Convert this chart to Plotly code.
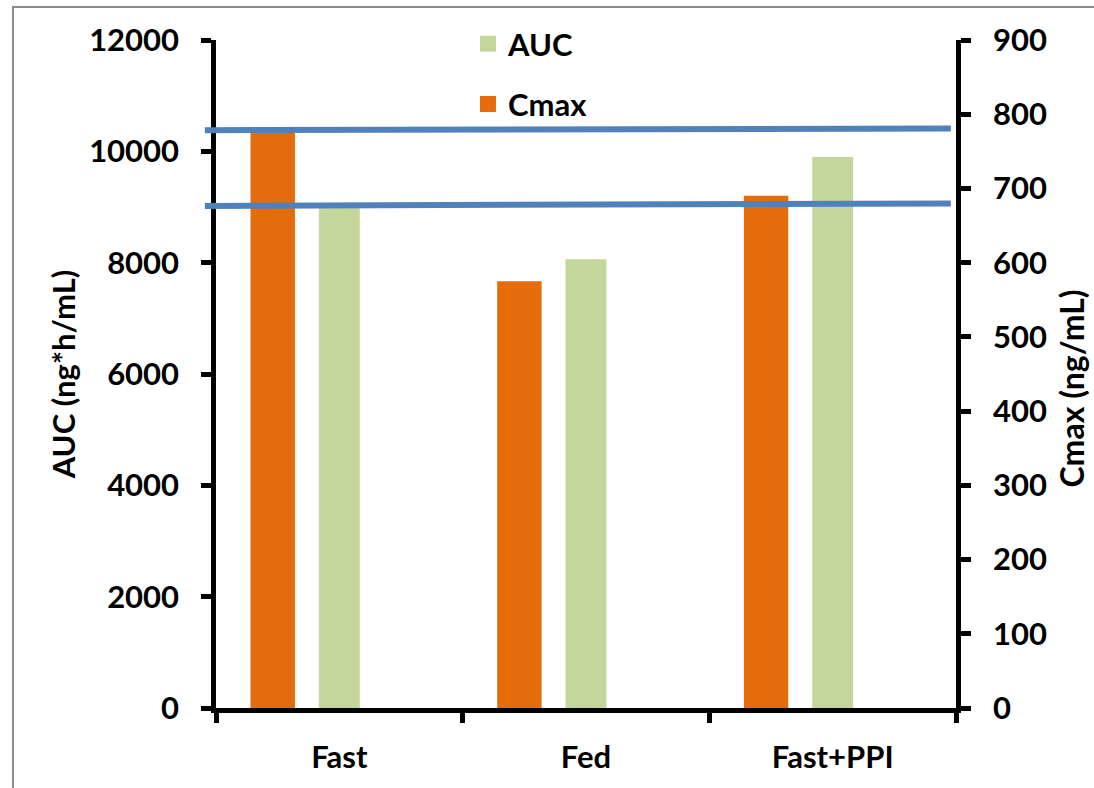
import plotly.graph_objects as go

# Study conditions on the category axis
conditions = ["Fast", "Fed", "Fast+PPI"]

# Exposure values per condition
auc_values = [9000, 8060, 9900]      # ng*h/mL, left axis
cmax_values = [778, 575, 690]        # ng/mL, right axis

# Reference levels (AUC units) at the left and right ends of each line
ref_line_start = [10380, 9020]
ref_line_end = [10410, 9065]

# Axis tick values and labels
auc_ticks = [0, 2000, 4000, 6000, 8000, 10000, 12000]
auc_tick_text = [str(v) for v in auc_ticks]
cmax_ticks = [0, 100, 200, 300, 400, 500, 600, 700, 800, 900]
cmax_tick_text = [str(v) for v in cmax_ticks]

ORANGE = "#E46C0A"
GREEN = "#C4D79B"
BLUE = "#4F81BD"
FONT = "Lato"
FS = 31

fig = go.Figure()

# Bars: Cmax on the secondary axis, AUC on the primary axis
fig.add_trace(go.Bar(
    x=conditions, y=cmax_values, yaxis="y2", name="Cmax",
    marker=dict(color=ORANGE, line=dict(width=0)),
    offset=-0.36, width=0.18, showlegend=False, legendgroup="cmax",
))
fig.add_trace(go.Bar(
    x=conditions, y=auc_values, yaxis="y", name="AUC",
    marker=dict(color=GREEN, line=dict(width=0)),
    offset=-0.083, width=0.166, showlegend=False, legendgroup="auc",
))

# Legend entries with larger square keys
fig.add_trace(go.Scatter(
    x=[None], y=[None], mode="markers", name="AUC", legendgroup="auc",
    marker=dict(symbol="square", size=16, color=GREEN),
))
fig.add_trace(go.Scatter(
    x=[None], y=[None], mode="markers", name="Cmax", legendgroup="cmax",
    marker=dict(symbol="square", size=16, color=ORANGE),
))

# Horizontal reference lines
shapes = []
for y0, y1 in zip(ref_line_start, ref_line_end):
    shapes.append(dict(
        type="line", xref="x domain", yref="y",
        x0=-0.015, x1=0.993, y0=y0, y1=y1,
        line=dict(color=BLUE, width=6), layer="above",
    ))

# Outer frame of the figure
shapes.append(dict(
    type="rect", xref="paper", yref="paper",
    x0=-0.2743, y0=1.0494, x1=1.2, y1=-0.2,
    line=dict(color="#8C8C8C", width=2), fillcolor="rgba(0,0,0,0)", layer="below",
))

axis_common = dict(
    showline=True, linecolor="black", linewidth=4.5,
    ticks="outside", ticklen=10, tickwidth=4.5, tickcolor="black",
    showgrid=False, zeroline=False,
    tickfont=dict(family=FONT, size=FS, color="black", weight="bold"),
)

fig.update_layout(
    width=1094, height=788,
    margin=dict(l=216, r=138, t=40, b=80),
    paper_bgcolor="white", plot_bgcolor="white",
    barmode="overlay",
    font=dict(family=FONT, size=FS, color="black", weight="bold"),
    shapes=shapes,
    xaxis=dict(
        type="category", categoryorder="array", categoryarray=conditions,
        range=[-0.5, 2.5], tickson="boundaries",
        ticklabelstandoff=18,
        **axis_common,
    ),
    yaxis=dict(
        range=[0, 12000], tickvals=auc_ticks, ticktext=auc_tick_text,
        ticklabelstandoff=16,
        title=dict(text="AUC (ng*h/mL)", standoff=6,
                   font=dict(family=FONT, size=FS, color="black", weight="bold")),
        **axis_common,
    ),
    yaxis2=dict(
        range=[0, 900], tickvals=cmax_ticks, ticktext=cmax_tick_text,
        overlaying="y", side="right", ticklabelstandoff=16,
        **axis_common,
    ),
    annotations=[dict(
        text="Cmax (ng/mL)", textangle=-90, showarrow=False,
        xref="paper", yref="paper", x=1.1851, y=0.479,
        xanchor="right", yanchor="middle",
        font=dict(family=FONT, size=32, color="black", weight="bold"),
    )],
    legend=dict(
        x=0.3405, y=1.0344, xanchor="left", yanchor="top",
        bgcolor="rgba(0,0,0,0)", tracegroupgap=17,
        font=dict(family=FONT, size=FS, color="black", weight="bold"),
    ),
)

fig.write_html("out.html")
